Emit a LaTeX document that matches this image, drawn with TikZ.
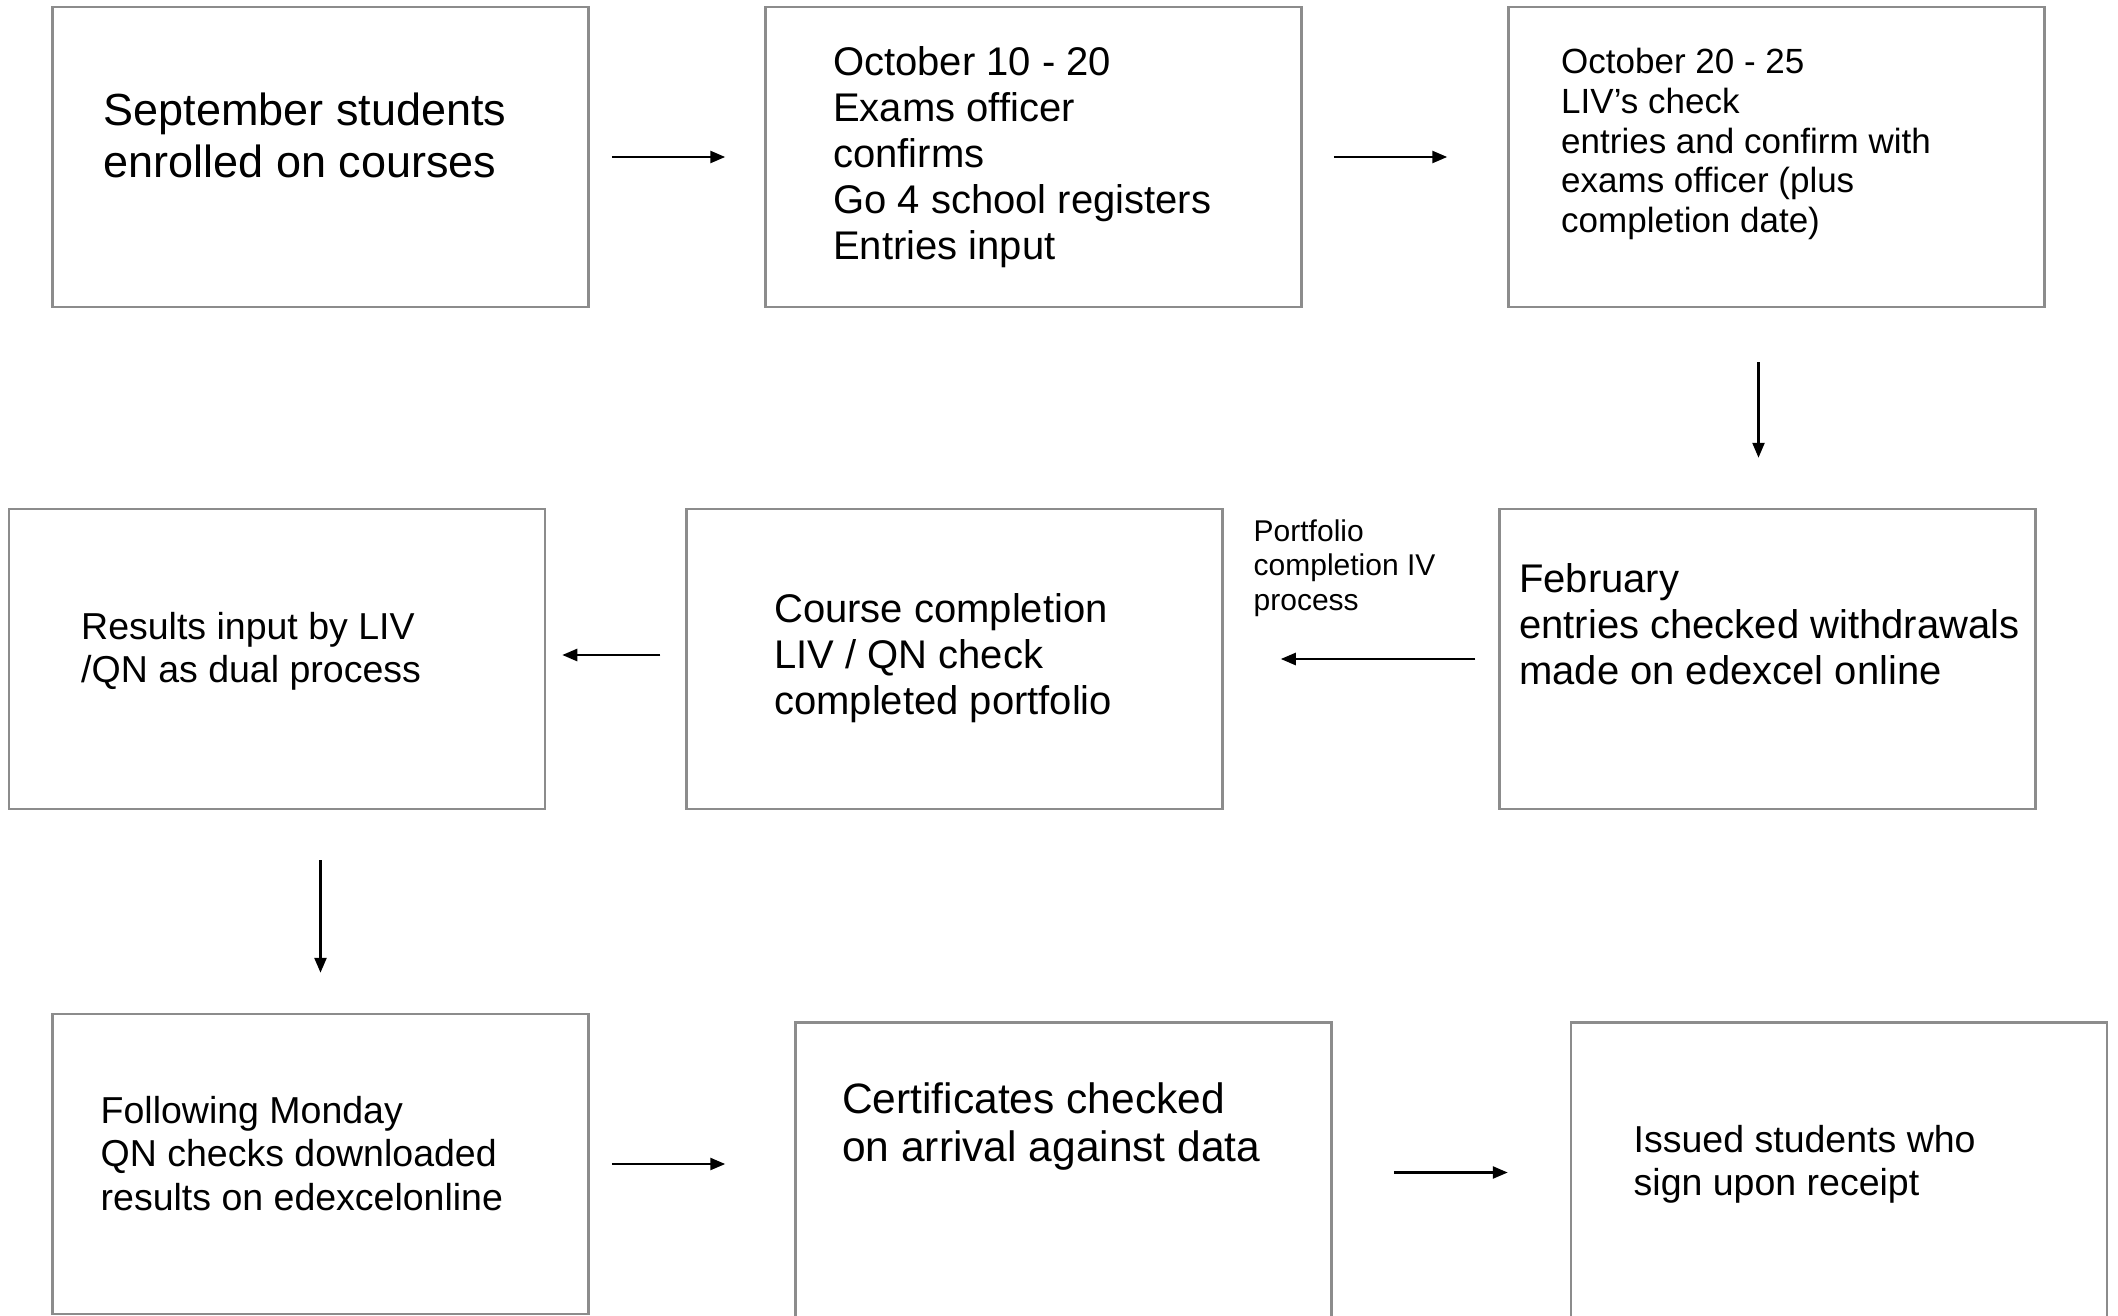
\documentclass[tikz,border=0pt]{standalone}
\usepackage{fontspec}
\setmainfont{Liberation Sans}
\usetikzlibrary{arrows.meta}

\begin{document}
\begin{tikzpicture}[x=1pt, y=-1pt,
  stage/.style={draw=black!45, line width=2.5pt, minimum width=536pt, minimum height=300pt, inner sep=0pt},
  words/.style={anchor=north west, inner sep=0pt, align=left},
  t18/.style={words, font=\fontsize{45}{51.75}\selectfont},
  t17/.style={words, font=\fontsize{42.5}{48.9}\selectfont},
  t16/.style={words, font=\fontsize{40}{46}\selectfont},
  t15/.style={words, font=\fontsize{37.5}{43.1}\selectfont},
  t14/.style={words, font=\fontsize{35}{39.8}\selectfont},
  t12/.style={words, font=\fontsize{30}{34.5}\selectfont},
  flow/.style={-{Triangle[length=15pt,width=12pt]}, line width=2.5pt}]
\useasboundingbox (0,0) rectangle (2118,1316);
\clip (0,0) rectangle (2118,1316);

% top row
\node[stage] (sept) at (320.5,157) {};
\node[stage] (oct) at (1033.5,157) {};
\node[stage] (livs) at (1776.5,157) {};
\node[t18] (septtxt) at (103.5,92.5) {September students\\enrolled on courses};
\node[t16] (octtxt) at (833,46) {October 10 - 20\\Exams officer\\confirms\\Go 4 school registers\\Entries input};
\node[t14] (livstxt) at (1561,48) {October 20 - 25\\LIV’s check\\entries and confirm with\\exams officer (plus\\completion date)};

% middle row
\node[stage] (results) at (277,659) {};
\node[stage] (course) at (954.5,659) {};
\node[stage] (feb) at (1767.5,659) {};
\node[t15] (resultstxt) at (81,612.5) {Results input by LIV\\/QN as dual process};
\node[t16] (coursetxt) at (774,593) {Course completion\\LIV / QN check\\completed portfolio};
\node[t16] (febtxt) at (1519,563.5) {February\\entries checked withdrawals\\made on edexcel online};
\node[t12] (portlbl) at (1253.5,519.5) {Portfolio\\completion IV\\process};

% bottom row
\node[stage] (monday) at (320.5,1164) {};
\node[stage] (certs) at (1063.5,1172.5) {};
\node[stage] (issued) at (1839,1172.5) {};
\node[t15] (mondaytxt) at (100.5,1096.5) {Following Monday\\QN checks downloaded\\results on edexcelonline};
\node[t17] (certstxt) at (842,1082) {Certificates checked\\on arrival against data};
\node[t15] (issuedtxt) at (1633.5,1125) {Issued students who\\sign upon receipt};

% arrows
\draw[flow, shorten <=22pt, shorten >=39pt] (sept) -- (oct);
\draw[flow, shorten <=31pt, shorten >=60pt] (oct) -- (livs);
\draw[flow, shorten <=54pt, shorten >=50pt] ([xshift=-18pt]livs.south) -- ([xshift=-18pt]livs.south |- feb.north);
\draw[flow, shorten <=23pt, shorten >=57pt] (feb) -- (course);
\draw[flow, shorten <=25pt, shorten >=16pt] ([yshift=4pt]course.west) -- ([yshift=4pt]results.east);
\draw[flow, shorten <=50pt, shorten >=40pt] (results.south -| monday.north) -- (monday.north);
\draw[flow, shorten <=22pt, shorten >=69pt] (monday.east) -- (monday.east -| certs.west);
\draw[flow, shorten <=61pt, shorten >=62pt] (certs) -- (issued);
\end{tikzpicture}
\end{document}
